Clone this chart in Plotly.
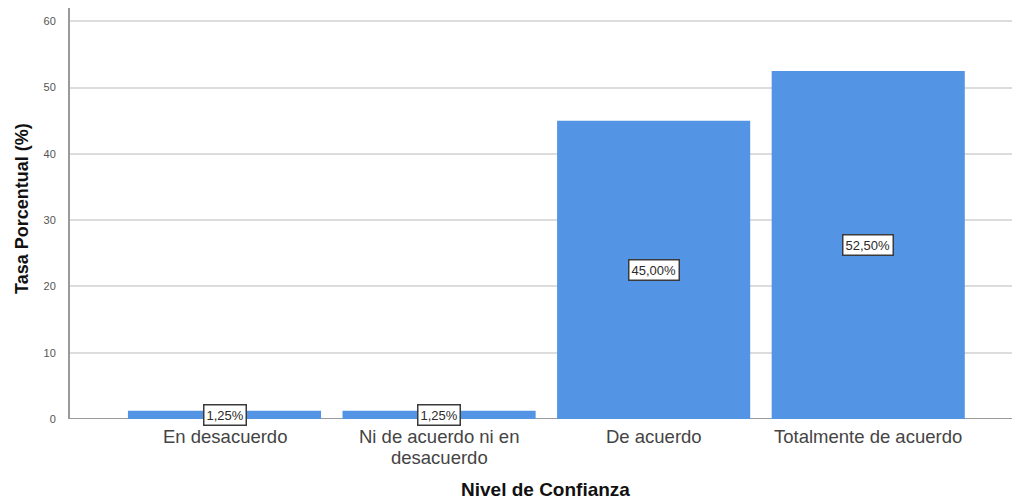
import plotly.graph_objects as go

# Nivel de confianza: porcentaje de respuestas por categoría
categorias = ["En desacuerdo", "Ni de acuerdo ni en<br>desacuerdo", "De acuerdo", "Totalmente de acuerdo"]
porcentajes = [1.25, 1.25, 45.00, 52.50]
y_ticks = [0, 10, 20, 30, 40, 50, 60]

BAR_COLOR = "rgb(83,148,228)"
FONT = "Liberation Sans, Arial, sans-serif"

fig = go.Figure()
fig.add_trace(go.Bar(
    x=list(range(len(categorias))),
    y=porcentajes,
    marker=dict(color=BAR_COLOR, line=dict(width=0)),
    hoverinfo="skip",
))

# Etiquetas de valor en recuadro, centradas en la mitad de cada barra
for i, v in enumerate(porcentajes):
    fig.add_annotation(
        x=i, y=v / 2, xref="x", yref="y",
        text=f"{v:.2f}%".replace(".", ","),
        showarrow=False,
        font=dict(family=FONT, size=13, color="#2a2a2a"),
        bgcolor="white", bordercolor="#3a3a3a", borderwidth=1.5, borderpad=2,
    )

# Etiquetas de categoría (una anotación por línea, interlineado compacto)
for i, cat in enumerate(categorias):
    for k, linea in enumerate(cat.split("<br>")):
        fig.add_annotation(
            x=i, xref="x", y=0, yref="paper",
            text=linea, showarrow=False,
            yanchor="middle", yshift=-17 - 21.5 * k,
            font=dict(family=FONT, size=18.5, color="#444"),
        )

# Títulos de los ejes
fig.add_annotation(
    x=0.505, xref="paper", y=-0.172, yref="paper", yanchor="middle",
    text="<b>Nivel de Confianza</b>", showarrow=False,
    font=dict(family=FONT, size=19, color="#111"),
)
fig.add_annotation(
    x=-0.0509, xref="paper", y=0.511, yref="paper", xanchor="center", yanchor="middle",
    text="<b>Tasa Porcentual (%)</b>", textangle=-90, showarrow=False,
    font=dict(family=FONT, size=18, color="#111"),
)

fig.update_layout(
    width=1012, height=502,
    margin=dict(l=70, r=0, t=8, b=83),
    paper_bgcolor="white", plot_bgcolor="white",
    bargap=0.1,
    showlegend=False,
    font=dict(family=FONT),
)

fig.update_xaxes(
    range=[-0.72, 3.67],
    showticklabels=False,
    showgrid=False, zeroline=False,
    showline=False, ticks="",
    automargin=False,
)

fig.update_yaxes(
    range=[0, 62],
    tickvals=y_ticks,
    tickfont=dict(family=FONT, size=11, color="#555"),
    showgrid=True, gridcolor="#dcdcdc", gridwidth=1.5,
    zeroline=False,
    showline=True, linecolor="#9a9a9a", linewidth=2,
    ticks="", ticklabelstandoff=10,
    automargin=False,
)

# Línea base del eje horizontal
fig.add_shape(type="line", xref="paper", yref="y", x0=0, x1=1, y0=0, y1=0,
              line=dict(color="#9a9a9a", width=2), layer="below")

fig.write_html("out.html")
